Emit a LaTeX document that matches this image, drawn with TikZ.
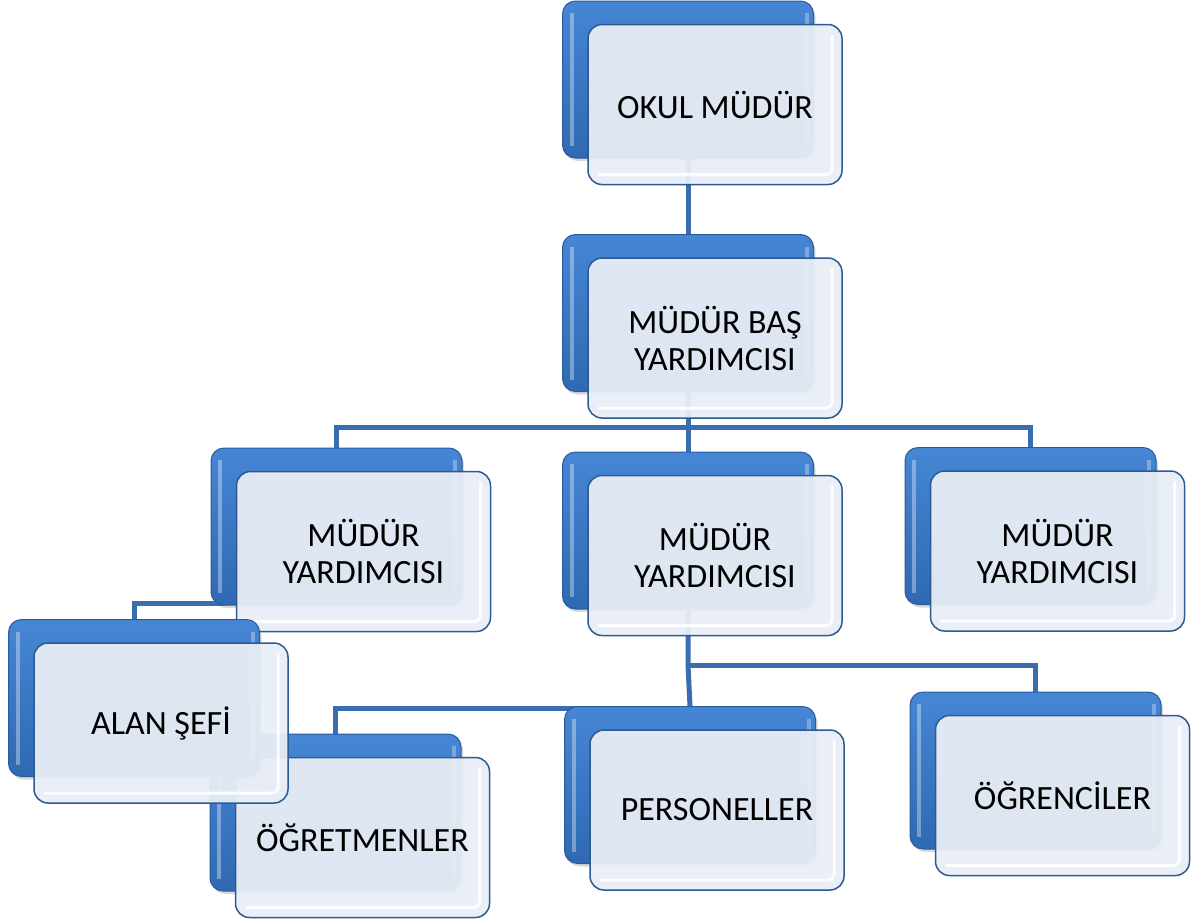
\documentclass[tikz,border=0pt]{standalone}
\usepackage{fontspec}
\setmainfont{Carlito}
\usetikzlibrary{backgrounds,shadows}
\definecolor{bbtop}{HTML}{4686D4}
\definecolor{bbbot}{HTML}{2F69B2}
\definecolor{bbdraw}{HTML}{2A5C9C}
\definecolor{frfill}{HTML}{E9EEF6}
\definecolor{frdraw}{HTML}{2C5A92}
\definecolor{conn}{HTML}{3A6DAF}
\tikzset{
 backbox/.style={rectangle, rounded corners=13pt, minimum width=251pt, minimum height=157pt, inner sep=0pt,
   top color=bbtop, bottom color=bbbot, draw=bbdraw, line width=1pt,
   drop shadow={opacity=0.3, shadow xshift=2pt, shadow yshift=-3pt},
   path picture={\draw[white, opacity=0.35, line width=4pt] ([shift={(9pt,-12pt)}]path picture bounding box.north west) -- ([shift={(9pt,12pt)}]path picture bounding box.south west);
     \draw[white, opacity=0.3, line width=4pt] ([shift={(-7pt,-12pt)}]path picture bounding box.north east) -- ([shift={(-7pt,12pt)}]path picture bounding box.south east);}},
 frontbox/.style={rectangle, rounded corners=14pt, minimum width=254pt, minimum height=160pt, inner sep=2pt,
   fill=frfill, fill opacity=0.94, text opacity=1, draw=frdraw, draw opacity=1, line width=1.5pt,
   align=center, font=\fontsize{34}{37}\selectfont,
   path picture={\draw[white, line width=3pt, opacity=0.9, rounded corners=6pt] ([shift={(10pt,10pt)}]path picture bounding box.south west) -| ([shift={(-10pt,-10pt)}]path picture bounding box.north east);}},
 link/.style={draw=conn, line width=5pt}
}
\newcommand\orgnode[4]{%
  \node[backbox] (#1b) at (#2-27,#3-25) {};
  \node[frontbox] (#1) at (#2,#3) {#4};
}
\begin{document}
\begin{tikzpicture}[x=1pt,y=-1pt]
\useasboundingbox (0,0) rectangle (1192,924);
\orgnode{okul}{715}{104.5}{OKUL MÜDÜR}
\orgnode{bas}{715}{338}{MÜDÜR BAŞ\\YARDIMCISI}
\orgnode{myl}{363.5}{551.5}{MÜDÜR\\YARDIMCISI}
\orgnode{mym}{715}{555.5}{MÜDÜR\\YARDIMCISI}
\orgnode{myr}{1057.5}{551}{MÜDÜR\\YARDIMCISI}
\orgnode{ogret}{362.5}{837.5}{ÖĞRETMENLER}
\orgnode{alan}{161}{723}{ALAN ŞEFİ}
\orgnode{pers}{717}{810}{PERSONELLER}
\orgnode{ogrenc}{1062.5}{795.5}{ÖĞRENCİLER}
\coordinate (bus1) at (688,427);
\coordinate (bus2) at (688,665);
\begin{pgfonlayer}{background}
  \draw[link] (okulb.south) -- (basb.north);
  \draw[link] (basb.south) -- (bus1);
  \draw[link] (mylb.north) |- (bus1) -| (myrb.north);
  \draw[link] (bus1) -- (mymb.north);
  \draw[link] ([shift={(14pt,2pt)}]mylb.south west) -| (alanb.north);
  \draw[link] (mymb.south) -- (bus2) -- (persb.north);
  \draw[link] (bus2) -| (ogrencb.north);
  \draw[link] (ogretb.north) |- ([yshift=-2pt]persb.north);
\end{pgfonlayer}
\end{tikzpicture}
\end{document}
